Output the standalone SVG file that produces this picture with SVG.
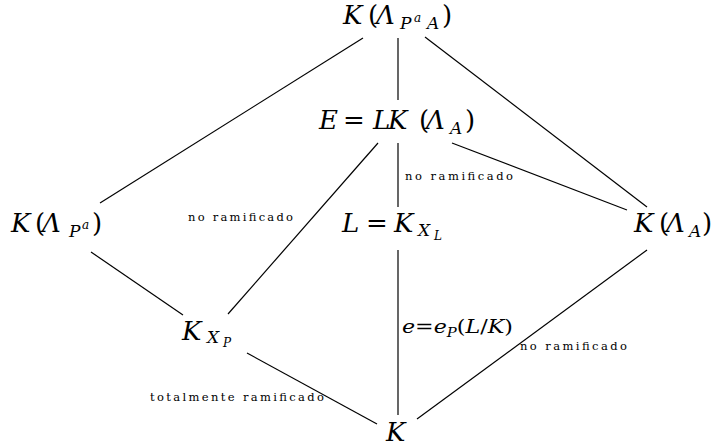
<svg xmlns="http://www.w3.org/2000/svg" width="712" height="447" viewBox="0 0 712 447">
<style>
.m{font-family:"DejaVu Serif","Liberation Serif",serif;font-size:26px;fill:#000}
.i{font-style:italic}
.s{font-size:17px}
.ss{font-size:12px}
.lb{font-family:"DejaVu Serif","Liberation Serif",serif;font-size:11.5px;fill:#000}
.e{font-family:"DejaVu Serif","Liberation Serif",serif;font-size:18px;fill:#000}
#edges line{stroke:#000;stroke-width:1.2}
</style>
<rect width="712" height="447" fill="#fff"/>
<g id="edges">
<line x1="363" y1="38" x2="100" y2="203"/>
<line x1="398" y1="38" x2="398" y2="100"/>
<line x1="425" y1="37" x2="647" y2="207"/>
<line x1="378" y1="143" x2="228" y2="314"/>
<line x1="398" y1="143" x2="398" y2="207"/>
<line x1="452" y1="143" x2="627" y2="210"/>
<line x1="91" y1="252" x2="183" y2="315"/>
<line x1="398" y1="250" x2="398" y2="415"/>
<line x1="647" y1="250" x2="417" y2="419"/>
<line x1="247" y1="353" x2="377" y2="424"/>
</g>
<g id="top"><text class="m"><tspan class="i" x="343" y="24">K</tspan><tspan x="368" y="24">(</tspan><tspan class="i" x="376" y="24">Λ</tspan><tspan class="i s" x="400" y="29">P</tspan><tspan class="i ss" x="414" y="22">a</tspan><tspan class="i s" x="427" y="29">A</tspan><tspan x="442" y="24">)</tspan></text></g>
<g id="E"><text class="m"><tspan class="i" x="319" y="129">E</tspan><tspan x="343" y="129">=</tspan><tspan class="i" x="373" y="129">L</tspan><tspan class="i" x="388" y="129">K</tspan><tspan x="419" y="129">(</tspan><tspan class="i" x="426" y="129">Λ</tspan><tspan class="i s" x="450" y="134">A</tspan><tspan x="465" y="129">)</tspan></text></g>
<g id="KLPa"><text class="m"><tspan class="i" x="11" y="232">K</tspan><tspan x="35" y="232">(</tspan><tspan class="i" x="42" y="232">Λ</tspan><tspan class="i s" x="69" y="237">P</tspan><tspan class="i ss" x="82" y="229">a</tspan><tspan x="92" y="232">)</tspan></text></g>
<g id="L"><text class="m"><tspan class="i" x="342" y="232">L</tspan><tspan x="366" y="232">=</tspan><tspan class="i" x="394" y="232">K</tspan><tspan class="i s" x="418" y="236">X</tspan><tspan class="i ss" x="434" y="240">L</tspan></text></g>
<g id="KLA"><text class="m"><tspan class="i" x="634" y="232">K</tspan><tspan x="659" y="232">(</tspan><tspan class="i" x="666" y="232">Λ</tspan><tspan class="i s" x="689" y="237">A</tspan><tspan x="702" y="232">)</tspan></text></g>
<g id="KXP"><text class="m"><tspan class="i" x="182" y="340">K</tspan><tspan class="i s" x="207" y="343">X</tspan><tspan class="i ss" x="223" y="347">P</tspan></text></g>
<g id="K"><text class="m"><tspan class="i" x="386" y="441">K</tspan></text></g>
<g id="labels">
<text class="lb" x="405" y="180" textLength="108" lengthAdjust="spacing">no ramificado</text>
<text class="lb" x="188" y="221" textLength="105" lengthAdjust="spacing">no ramificado</text>
<text class="lb" x="520" y="350" textLength="107" lengthAdjust="spacing">no ramificado</text>
<text class="lb" x="150" y="401" textLength="174" lengthAdjust="spacing">totalmente ramificado</text>
<text class="e" x="402" y="333" textLength="111" lengthAdjust="spacingAndGlyphs"><tspan class="i">e</tspan>=<tspan class="i">e</tspan><tspan class="i" dy="4" style="font-size:12px">P</tspan><tspan dy="-4">(</tspan><tspan class="i">L</tspan>/<tspan class="i">K</tspan>)</text>
</g>
</svg>
